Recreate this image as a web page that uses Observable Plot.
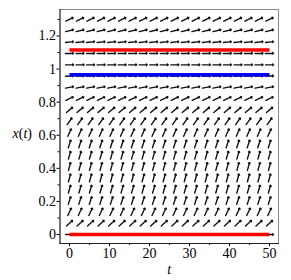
<!DOCTYPE html>
<html><head><meta charset="utf-8">
<script src="https://cdn.jsdelivr.net/npm/d3@7"></script>
<script src="https://cdn.jsdelivr.net/npm/@observablehq/plot@0.6"></script>
<style>body{margin:0;background:#fff} #chart{width:291px;height:280px}
#chart svg text{font-family:"Liberation Serif","Times New Roman",serif !important;}</style>
</head><body><div id="chart"></div>
<script>
// direction-field grid (t columns, x rows) and arrow direction per row (screen degrees above horizontal)
const tGrid = [0, 2.63, 5.26, 7.89, 10.53, 13.16, 15.79, 18.42, 21.05, 23.68, 26.32, 28.95, 31.58, 34.21, 36.84, 39.47, 42.11, 44.74, 47.37, 50];
const xGrid = [0, 0.068, 0.137, 0.205, 0.274, 0.342, 0.411, 0.479, 0.547, 0.616, 0.684, 0.753, 0.821, 0.889, 0.958, 1.026, 1.095, 1.163, 1.232, 1.3];
const fieldAngle = [0, 42, 65, 72, 74, 75, 75, 74, 72, 66, 55, 40, 25, 11, 3, 1, 2, 6, 14, 27];
// solution curves
const solT = [0, 50];
const upperRed = [1.115, 1.115];
const blueSol = [0.966, 0.966];
const lowerRed = [0, 0];
// ticks
const xTicks = [0, 10, 20, 30, 40, 50];
const xMinor = [5, 15, 25, 35, 45];
const yTicks = [0, 0.2, 0.4, 0.6, 0.8, 1, 1.2];
const yMinor = [0.1, 0.3, 0.5, 0.7, 0.9, 1.1, 1.3];
const yTickLabels = ["0", "0.2", "0.4", "0.6", "0.8", "1", "1.2"];

const serif = "Liberation Serif";
const field = [];
xGrid.forEach((x, i) => tGrid.forEach(t => field.push({t, x, a: fieldAngle[i]})));
const curve = (ys) => solT.map((t, i) => ({t, x: ys[i]}));

const chart = Plot.plot({
  width: 291, height: 280,
  marginLeft: 59.5, marginRight: 13, marginTop: 9, marginBottom: 37,
  x: {domain: [-2.375, 52.25]},
  y: {domain: [-0.0544, 1.36]},
  style: {fontFamily: serif, fontSize: "14px", background: "white", color: "black"},
  marks: [
    Plot.vector(field, {x: "t", y: "x", rotate: d => 90 - d.a, length: 8, r: 1.8, anchor: "middle", shape: "arrow", stroke: "#111", strokeWidth: 1.4}),
    Plot.line(curve(upperRed), {x: "t", y: "x", stroke: "#ff0000", strokeWidth: 3.6, strokeLinecap: "butt"}),
    Plot.line(curve(blueSol), {x: "t", y: "x", stroke: "#0000ff", strokeWidth: 3.6, strokeLinecap: "butt"}),
    Plot.line(curve(lowerRed), {x: "t", y: "x", stroke: "#ff0000", strokeWidth: 3.6, strokeLinecap: "butt"}),
    Plot.frame({stroke: "#888"}),
    Plot.frame({anchor: "left", stroke: "#222"}),
    Plot.frame({anchor: "bottom", stroke: "#222"}),
    Plot.axisX(xTicks, {tickSize: 3, tickPadding: 2, label: null, tickFormat: d => String(d), fontSize: 14, fontFamily: serif}),
    Plot.axisX(xMinor, {tickSize: 2, label: null, tickFormat: () => ""}),
    Plot.axisY(yTicks, {tickSize: 3, tickPadding: 1, label: null, tickFormat: (d, i) => yTickLabels[i], fontSize: 14, fontFamily: serif}),
    Plot.axisY(yMinor, {tickSize: 2, label: null, tickFormat: () => ""}),
    Plot.text(["t"], {frameAnchor: "bottom", dy: 30, fontStyle: "italic", fontSize: 14, fontFamily: serif}),
    Plot.text(["x(t)"], {frameAnchor: "left", dx: -47.5, dy: 7, textAnchor: "start", fontSize: 14, fontFamily: serif})
  ]
});
document.getElementById("chart").appendChild(chart);
// y label as Maple draws it: italic variables, upright parentheses
d3.select(chart).selectAll("text").filter(function () { return this.textContent === "x(t)"; }).each(function () {
  const s = d3.select(this);
  s.text(null);
  s.append("tspan").attr("font-style", "italic").text("x");
  s.append("tspan").text("(");
  s.append("tspan").attr("font-style", "italic").text("t");
  s.append("tspan").text(")");
});
</script>
</body></html>
